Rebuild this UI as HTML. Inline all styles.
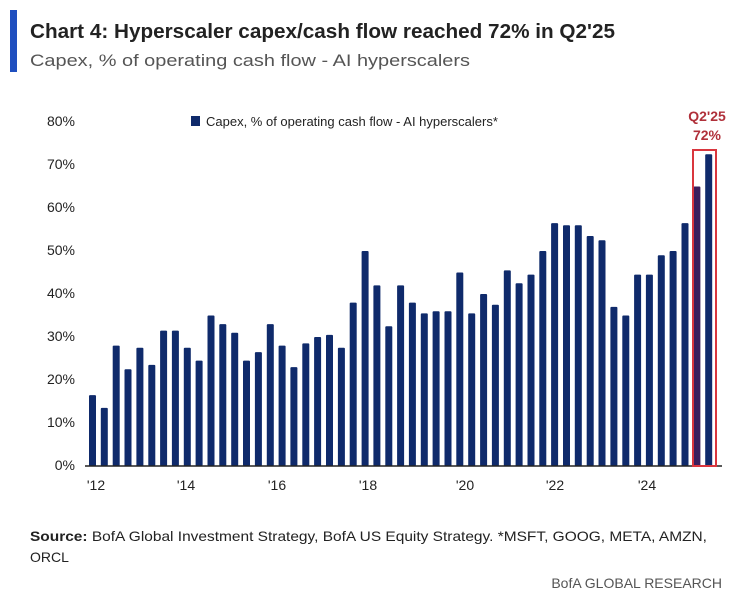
<!DOCTYPE html>
<html><head><meta charset="utf-8"><style>
body{margin:0;background:#fff;width:735px;height:599px;overflow:hidden;font-family:"Liberation Sans",sans-serif;}
</style></head><body>
<svg width="735" height="599" xmlns="http://www.w3.org/2000/svg" font-family="Liberation Sans, sans-serif">
<rect x="10" y="10" width="7" height="62" fill="#1f4fbf"/>
<text x="30" y="38" font-size="20" font-weight="bold" fill="#222" textLength="585" lengthAdjust="spacingAndGlyphs">Chart 4: Hyperscaler capex/cash flow reached 72% in Q2'25</text>
<text x="30" y="66" font-size="17" fill="#555" textLength="440" lengthAdjust="spacingAndGlyphs">Capex, % of operating cash flow - AI hyperscalers</text>
<rect x="191" y="116" width="9" height="10" fill="#0f2a6b"/>
<text x="206" y="126" font-size="13" fill="#222">Capex, % of operating cash flow - AI hyperscalers*</text>
<g font-size="14" fill="#222" text-anchor="end">
<text x="75" y="470">0%</text><text x="75" y="427">10%</text><text x="75" y="384">20%</text><text x="75" y="341">30%</text><text x="75" y="298">40%</text><text x="75" y="255">50%</text><text x="75" y="212">60%</text><text x="75" y="169">70%</text><text x="75" y="126">80%</text>
</g>
<g id="bars" fill="#0f2a6b"></g>
<line x1="85" y1="466" x2="722" y2="466" stroke="#222" stroke-width="1.5"/>
<rect x="693" y="150" width="23" height="316" fill="none" stroke="#d9363e" stroke-width="2"/>
<text x="707" y="121" font-size="14" font-weight="bold" fill="#b0303a" text-anchor="middle">Q2'25</text>
<text x="707" y="140" font-size="14" font-weight="bold" fill="#b0303a" text-anchor="middle">72%</text>
<g font-size="14" fill="#222" text-anchor="middle">
<text x="96" y="490">'12</text><text x="186" y="490">'14</text><text x="277" y="490">'16</text><text x="368" y="490">'18</text><text x="465" y="490">'20</text><text x="555" y="490">'22</text><text x="647" y="490">'24</text>
</g>
<text x="30" y="541" font-size="14" fill="#222" textLength="677" lengthAdjust="spacingAndGlyphs"><tspan font-weight="bold">Source:</tspan> BofA Global Investment Strategy, BofA US Equity Strategy. *MSFT, GOOG, META, AMZN,</text>
<text x="30" y="562" font-size="14" fill="#222">ORCL</text>
<text x="722" y="588" font-size="14" fill="#555" text-anchor="end">BofA GLOBAL RESEARCH</text>
</svg>
<script>
var v=[16.5,13.5,28,22.5,27.5,23.5,31.5,31.5,27.5,24.5,35,33,31,24.5,26.5,33,28,23,28.5,30,30.5,27.5,38,50,42,32.5,42,38,35.5,36,36,45,35.5,40,37.5,45.5,42.5,44.5,50,56.5,56,56,53.5,52.5,37,35,44.5,44.5,49,50,56.5,65,72.5];
var g=document.getElementById('bars'),s='';
for(var i=0;i<v.length;i++){var x=89+i*11.85,h=v[i]*4.3;s+='<rect x="'+x.toFixed(1)+'" y="'+(466-h).toFixed(1)+'" width="7" height="'+h.toFixed(1)+'" rx="1"'+(i==51?' fill="#3a1f5e"':'')+'/>';}
g.innerHTML=s;
</script>
</body></html>
